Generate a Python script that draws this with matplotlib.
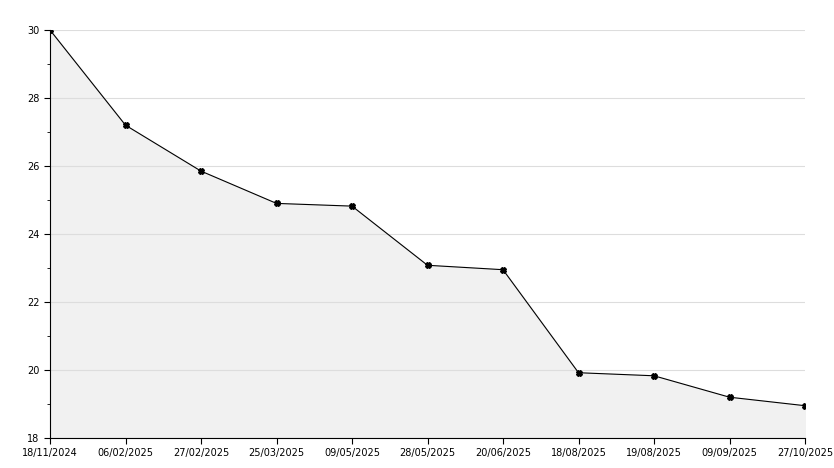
import matplotlib
matplotlib.use("Agg")
import matplotlib.pyplot as plt
from matplotlib.ticker import MultipleLocator

dates = ["18/11/2024","06/02/2025","27/02/2025","25/03/2025","09/05/2025","28/05/2025",
         "20/06/2025","18/08/2025","19/08/2025","09/09/2025","27/10/2025"]
values = [30, 27.2, 25.85, 24.9, 24.82, 23.08, 22.95, 19.92, 19.83, 19.2, 18.95]

fig = plt.figure(figsize=(8.34, 4.68), dpi=100)
ax = fig.add_axes([50/834, 1-438/468, 755/834, 408/468])
x = list(range(len(values)))
ax.fill_between(x, values, 18, color="#f1f1f1", zorder=1)
ax.plot(x, values, color="black", lw=0.8, marker="X", ms=4, zorder=3)
ax.set_xlim(0, len(values)-1)
ax.set_ylim(18, 30)
ax.set_xticks(x)
ax.set_xticklabels(dates)
ax.yaxis.set_major_locator(MultipleLocator(2))
ax.yaxis.set_minor_locator(MultipleLocator(1))
ax.grid(axis="y", which="major", color="#dddddd", lw=0.8, zorder=0)
for s in ["top", "right"]:
    ax.spines[s].set_visible(False)
ax.tick_params(labelsize=7, length=4)
ax.tick_params(which="minor", length=2)
fig.savefig("out.png", dpi=100, facecolor="white")
